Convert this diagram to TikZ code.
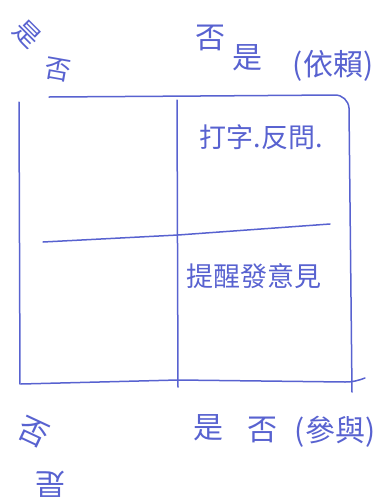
\documentclass[tikz,border=0pt]{standalone}
\usepackage{fontspec}
\newfontfamily\cjk{Noto Sans CJK TC}
\definecolor{ink}{RGB}{88,98,208}
\begin{document}
\begin{tikzpicture}[x=1pt,y=-1pt,
  pen/.style={draw=ink,line width=1.5pt,line cap=round,line join=round},
  hand/.style={text=ink,font=\cjk\fontsize{27}{29}\selectfont,inner sep=0pt},
  big/.style={text=ink,font=\cjk\fontsize{30}{32}\selectfont,inner sep=0pt}]
\useasboundingbox (0,0) rectangle (385,504);
% frame
\draw[pen] (19,102) -- (20,384);
\draw[pen] (49,97) -- (200,96) -- (335,95) to[out=0,in=95] (349,108) -- (352,392);
\draw[pen] (21,384) -- (178,380) -- (345,382) to[out=0,in=200] (365,378);
\draw[pen] (177,100) -- (178,387);
\draw[pen] (43,242) -- (178,235) -- (330,224);
% quadrant texts
\node[hand] (q1) at (261,137) {打字.反問.};
\node[hand] (q2) at (254,276) {提醒發意見};
% axis labels
\node[big,rotate=-45,font=\cjk\fontsize{26}{28}\selectfont] (tl1) at (27,34) {是};
\node[big,rotate=-10,font=\cjk\fontsize{26}{28}\selectfont] (tl2) at (58,70) {否};
\node[big] (tr1) at (210,38) {否};
\node[big] (tr2) at (247,58) {是};
\node[big] (tr3) at (333,66) {(依賴)};
\node[big,rotate=-25] (bl1) at (34,432) {否};
\node[big,rotate=180] (bl2) at (50,484) {是};
\node[big] (br1) at (208,428) {是};
\node[big] (br2) at (262,430) {否};
\node[big] (br3) at (335,432) {(參與)};
\end{tikzpicture}
\end{document}
